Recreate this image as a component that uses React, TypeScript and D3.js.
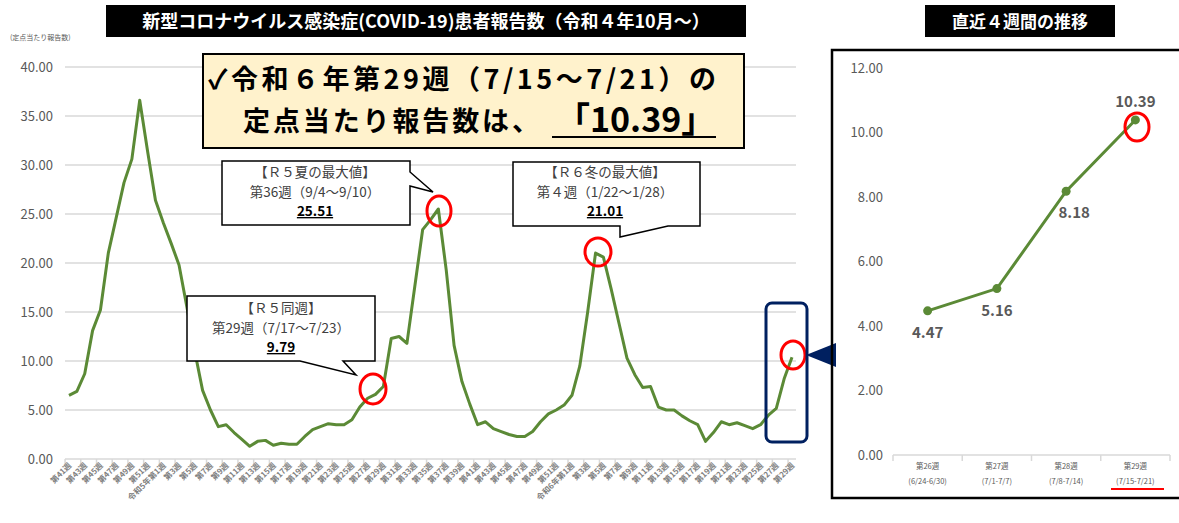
import React from "react";
import * as d3 from "d3";

// 週の区分（令和4年第41週〜令和6年第29週）
const weeksR4 = d3.range(41, 53);
const weeksR5 = d3.range(1, 53);
const weeksR6 = d3.range(1, 30);

// 定点当たり報告数
const reports = [
  6.5, 6.9, 8.7, 13.1, 15.2, 21.0, 24.6, 28.2, 30.6, 36.6,
  31.4, 26.4, 24.1, 22.0, 19.8, 15.5, 11.0, 7.0, 5.0, 3.3,
  3.5, 2.7, 2.0, 1.3, 1.8, 1.9, 1.4, 1.6, 1.5, 1.5,
  2.3, 3.0, 3.3, 3.6, 3.5, 3.5, 4.0, 5.3, 6.2, 6.6,
  7.4, 12.3, 12.5, 11.8, 17.6, 23.4, 24.4, 25.51, 19.3, 11.6,
  7.9, 5.6, 3.5, 3.8, 3.1, 2.8, 2.5, 2.3, 2.3, 2.8,
  3.8, 4.6, 5.0, 5.5, 6.5, 9.5, 15.0, 21.01, 20.6, 17.3,
  13.8, 10.3, 8.6, 7.3, 7.4, 5.3, 5.0, 5.0, 4.4, 3.9,
  3.5, 1.8, 2.7, 3.8, 3.5, 3.7, 3.4, 3.1, 3.5, 4.47,
  5.16, 8.18, 10.39,
];

const mainTicks = [0, 5, 10, 15, 20, 25, 30, 35, 40];

// 直近4週間
const recentWeeks = ["第26週", "第27週", "第28週", "第29週"];
const recentDates = ["(6/24-6/30)", "(7/1-7/7)", "(7/8-7/14)", "(7/15-7/21)"];
const recentValues = [4.47, 5.16, 8.18, 10.39];
const recentTicks = [0, 2, 4, 6, 8, 10, 12];

const categories = [
  ...weeksR4.map((w) => `第${w}週`),
  ...weeksR5.map((w) => (w === 1 ? "令和5年第1週" : `第${w}週`)),
  ...weeksR6.map((w) => (w === 1 ? "令和6年第1週" : `第${w}週`)),
];

const FONT = "'Noto Sans CJK JP', 'Noto Sans', 'DejaVu Sans', sans-serif";
const GREEN = "#5b8a36";
const GRID = "#d9d9d9";
const LABEL = "#595959";
const NAVY = "#002060";

function Callout(props: {
  path: string;
  cx: number;
  y0: number;
  lines: string[];
  value: string;
}) {
  const { path, cx, y0, lines, value } = props;
  const gap = 19.5;
  return (
    <g>
      <path d={path} fill="#fff" stroke="#000" strokeWidth={1.5} />
      {lines.map((t, i) => (
        <text
          key={i}
          x={cx}
          y={y0 + i * gap}
          textAnchor="middle"
          fontSize={13.5}
          fill="#404040"
        >
          {t}
        </text>
      ))}
      <text
        x={cx}
        y={y0 + lines.length * gap}
        textAnchor="middle"
        fontSize={13.5}
        fontWeight="bold"
        fill="#000"
        style={{ textDecoration: "underline" }}
      >
        {value}
      </text>
    </g>
  );
}

export default function App() {
  const width = 1179;
  const height = 523;

  // メインチャート
  const x = d3
    .scalePoint<number>()
    .domain(d3.range(categories.length))
    .range([69, 792]);
  const step = x.step();
  const y = d3.scaleLinear().domain([0, 40]).range([459, 67]);
  const line = d3
    .line<number>()
    .x((d, i) => x(i) as number)
    .y((d) => y(d));

  // 直近4週間チャート
  const rx = d3.scaleBand<string>().domain(recentWeeks).range([893, 1170]);
  const ry = d3.scaleLinear().domain([0, 12]).range([455, 68]);
  const rline = d3
    .line<number>()
    .x((d, i) => (rx(recentWeeks[i]) as number) + rx.bandwidth() / 2)
    .y((d) => ry(d));
  const labelOffsets = [
    [0, 27],
    [0, 27],
    [8, 27],
    [0, -13],
  ];

  return (
    <svg
      width={width}
      height={height}
      style={{ position: "absolute", left: 0, top: 0, background: "#fff" }}
      fontFamily={FONT}
    >
      {/* タイトル */}
      <rect x={106} y={5} width={640} height={32} fill="#000" />
      <text x={426} y={28} textAnchor="middle" fontSize={18} fontWeight="bold" fill="#fff">
        新型コロナウイルス感染症(COVID-19)患者報告数（令和４年10月～）
      </text>
      <text x={10} y={40} fontSize={7} fill={LABEL}>
        (定点当たり報告数)
      </text>

      {/* グリッド・Y軸 */}
      {mainTicks.map((t) => (
        <g key={t}>
          <line x1={65} x2={796} y1={y(t)} y2={y(t)} stroke={GRID} strokeWidth={1.5} />
          <text x={53} y={y(t) + 4.5} textAnchor="end" fontSize={13} fill={LABEL}>
            {t.toFixed(2)}
          </text>
        </g>
      ))}

      {/* X軸 */}
      {categories.map((c, i) =>
        i % 2 === 0 ? (
          <g key={i}>
            <line
              x1={(x(i) as number) - step / 2}
              x2={(x(i) as number) - step / 2}
              y1={459}
              y2={464}
              stroke={GRID}
              strokeWidth={1.5}
            />
            <text
              transform={`translate(${(x(i) as number) + 3},${466}) rotate(-45)`}
              textAnchor="end"
              fontSize={8}
              fontWeight="bold"
              fill="#808080"
            >
              {c}
            </text>
          </g>
        ) : null
      )}

      <path d={line(reports) ?? ""} fill="none" stroke={GREEN} strokeWidth={3} strokeLinejoin="round" />

      {/* 吹き出し */}
      <Callout
        path="M222,161 H410 V172 L433,192 L410,186 V225 H222 Z"
        cx={315}
        y0={177}
        lines={["【Ｒ５夏の最大値】", "第36週（9/4～9/10）"]}
        value="25.51"
      />
      <Callout
        path="M513,162 H700 V226 H668 L620,237 V226 H513 Z"
        cx={605}
        y0={177}
        lines={["【Ｒ６冬の最大値】", "第４週（1/22～1/28）"]}
        value="21.01"
      />
      <Callout
        path="M187,296 H375 V361 H343 L356,375 L300,361 H187 Z"
        cx={281}
        y0={313}
        lines={["【Ｒ５同週】", "第29週（7/17～7/23）"]}
        value="9.79"
      />

      {/* 赤丸 */}
      <ellipse cx={439} cy={211} rx={12} ry={15} fill="none" stroke="#ff0000" strokeWidth={3} />
      <ellipse cx={598} cy={252} rx={13} ry={14} fill="none" stroke="#ff0000" strokeWidth={3} />
      <ellipse cx={373} cy={389} rx={13} ry={15} fill="none" stroke="#ff0000" strokeWidth={3} />
      <ellipse cx={793} cy={355} rx={12} ry={14} fill="none" stroke="#ff0000" strokeWidth={3} />

      {/* 直近4週の枠 */}
      <rect x={766} y={303} width={41} height={139} rx={6} fill="none" stroke={NAVY} strokeWidth={3} />
      <polygon points="806,355 836,343 836,367" fill={NAVY} />

      {/* 強調ボックス */}
      <rect x={203} y={54} width={541} height={94} fill="#fff2cc" stroke="#000" strokeWidth={2} />
      <text x={208} y={89} fontSize={27} fontWeight="bold" fill="#000" textLength={508} lengthAdjust="spacing">
        ✓令和６年第29週（7/15～7/21）の
      </text>
      <text x={243} y={131} fontSize={27} fontWeight="bold" fill="#000" textLength={296} lengthAdjust="spacing">
        定点当たり報告数は、
      </text>
      <text x={556} y={132} fontSize={34} fontWeight="bold" fill="#000">
        「10.39」
      </text>
      <line x1={552} x2={716} y1={137} y2={137} stroke="#000" strokeWidth={2} />

      {/* 右パネル */}
      <rect x={832} y={50} width={360} height={448} fill="none" stroke="#000" strokeWidth={2.5} />
      <rect x={925} y={5} width={190} height={32} fill="#000" />
      <text x={1020} y={28} textAnchor="middle" fontSize={17} fontWeight="bold" fill="#fff">
        直近４週間の推移
      </text>

      {recentTicks.map((t) => (
        <text key={t} x={883} y={ry(t) + 4.5} textAnchor="end" fontSize={13} fill={LABEL}>
          {t.toFixed(2)}
        </text>
      ))}
      <line x1={893} x2={1170} y1={455} y2={455} stroke={GRID} strokeWidth={1.5} />
      {recentWeeks.map((w, i) => {
        const bx = rx(w) as number;
        const cx = bx + rx.bandwidth() / 2;
        return (
          <g key={w}>
            <line x1={bx} x2={bx} y1={455} y2={461} stroke={GRID} strokeWidth={1.5} />
            <text x={cx} y={469} textAnchor="middle" fontSize={7.5} fill={LABEL}>
              {w}
            </text>
            <text x={cx} y={484} textAnchor="middle" fontSize={7.5} fill={LABEL}>
              {recentDates[i]}
            </text>
          </g>
        );
      })}
      <line x1={1170} x2={1170} y1={455} y2={461} stroke={GRID} strokeWidth={1.5} />
      <line x1={1111} x2={1164} y1={489} y2={489} stroke="#ff0000" strokeWidth={2} />

      <path d={rline(recentValues) ?? ""} fill="none" stroke={GREEN} strokeWidth={3} />
      {recentValues.map((v, i) => {
        const cx = (rx(recentWeeks[i]) as number) + rx.bandwidth() / 2;
        return (
          <g key={i}>
            <circle cx={cx} cy={ry(v)} r={4.5} fill={GREEN} />
            <text
              x={cx + labelOffsets[i][0]}
              y={ry(v) + labelOffsets[i][1]}
              textAnchor="middle"
              fontSize={15}
              fontWeight="bold"
              fill={LABEL}
            >
              {v.toFixed(2)}
            </text>
          </g>
        );
      })}
      <ellipse cx={1137} cy={127} rx={12} ry={14} fill="none" stroke="#ff0000" strokeWidth={3} />
    </svg>
  );
}
